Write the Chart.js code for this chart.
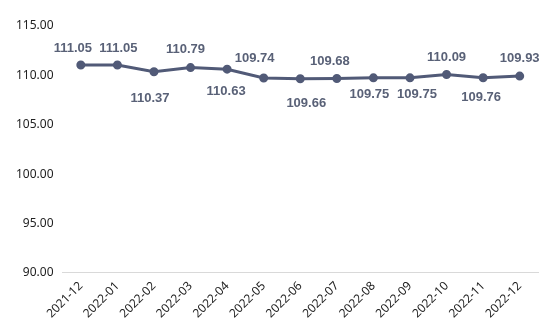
<!DOCTYPE html>
<html>
<head>
<meta charset="utf-8">
<script src="https://cdn.jsdelivr.net/npm/chart.js@4"></script>
<style>
    html, body { margin: 0; padding: 0; background: #fff; }
    #wrap { width: 554px; height: 335px; }
</style>
</head>
<body>
<div id="wrap"><canvas id="priceChart"></canvas></div>
<script>
const months = ['2021-12', '2022-01', '2022-02', '2022-03', '2022-04', '2022-05', '2022-06',
    '2022-07', '2022-08', '2022-09', '2022-10', '2022-11', '2022-12'];
const values = [111.05, 111.05, 110.37, 110.79, 110.63, 109.74, 109.66,
    109.68, 109.75, 109.75, 110.09, 109.76, 109.93];
const yTicks = [90, 95, 100, 105, 110, 115];

// label nudges (px) so neighbouring value labels don't collide
const labelDx = [-8, 1, -4, -5, -1, -9, 6, -7, -4, 7, 0, -2, 0];
const labelDy = [-17, -17, 27, -18, 22, -20, 25, -17, 17, 17, -17, 20, -18];

const tickFont = { family: '"Noto Sans", sans-serif', size: 12 };

// --- value labels drawn next to each point ---
const valueLabels = {
    id: 'valueLabels',
    afterDatasetsDraw(chart) {
        const ctx = chart.ctx;
        const meta = chart.getDatasetMeta(0);
        ctx.save();
        ctx.font = 'bold 13px "Liberation Sans", Arial, sans-serif';
        ctx.fillStyle = '#596177';
        ctx.textAlign = 'center';
        ctx.textBaseline = 'middle';
        meta.data.forEach((pt, i) => {
            ctx.fillText(values[i].toFixed(2), pt.x + labelDx[i], pt.y + labelDy[i]);
        });
        ctx.restore();
    }
};

const ctx = document.getElementById('priceChart').getContext('2d');
new Chart(ctx, {
    type: 'line',
    data: {
        labels: months,
        datasets: [{
            data: values,
            borderColor: '#515a77',
            backgroundColor: '#515a77',
            borderWidth: 3,
            pointRadius: 3,
            pointHoverRadius: 3,
            tension: 0
        }]
    },
    options: {
        responsive: true,
        maintainAspectRatio: false,
        animation: false,
        layout: { padding: { top: 26, right: 16, bottom: 8, left: 7 } },
        scales: {
            x: {
                offset: true,
                grid: { display: false, drawTicks: false },
                border: { display: true, color: '#d9d9d9', width: 1 },
                ticks: {
                    color: '#222',
                    font: tickFont,
                    minRotation: 45,
                    maxRotation: 45,
                    padding: 6
                }
            },
            y: {
                min: 90,
                max: 115,
                grid: { display: false, drawTicks: false },
                border: { display: false },
                afterBuildTicks: axis => {
                    axis.ticks = yTicks.map(v => ({ value: v }));
                },
                ticks: {
                    color: '#222',
                    font: tickFont,
                    padding: 9,
                    callback: v => v.toFixed(2)
                }
            }
        },
        plugins: {
            legend: { display: false },
            tooltip: { enabled: false }
        }
    },
    plugins: [valueLabels]
});
</script>
</body>
</html>
